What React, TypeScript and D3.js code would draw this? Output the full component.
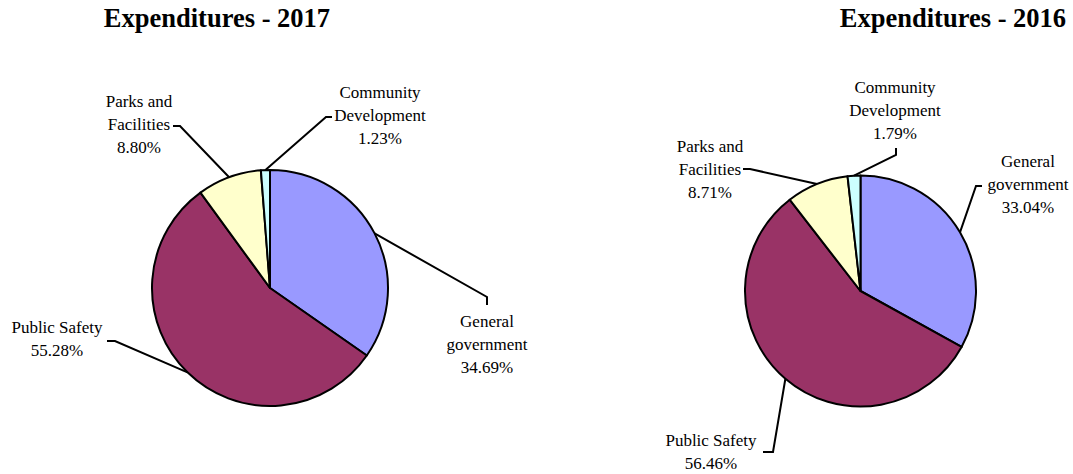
import React from "react";
import * as d3 from "d3";

const categories = ["General government", "Public Safety", "Parks and Facilities", "Community Development"];
const values2017 = [34.69, 55.28, 8.8, 1.23];
const values2016 = [33.04, 56.46, 8.71, 1.79];
const labelLines = [["General", "government"], ["Public Safety"], ["Parks and", "Facilities"], ["Community", "Development"]];
const colors = ["#9999FF", "#993366", "#FFFFCC", "#CCFFFF"];
const titles = ["Expenditures - 2017", "Expenditures - 2016"];

type LabelLayout = { x: number; y: number; elbow: [number, number]; end: [number, number] };
type ChartLayout = { cx: number; cy: number; r: number; titleX: number; labels: LabelLayout[] };

const layouts: ChartLayout[] = [
  {
    cx: 270, cy: 288, r: 118, titleX: 217,
    labels: [
      { x: 487, y: 327, elbow: [487, 297], end: [487, 305] },
      { x: 57, y: 333, elbow: [115, 341], end: [107, 341] },
      { x: 139, y: 107, elbow: [180, 126], end: [173, 126] },
      { x: 380, y: 98, elbow: [326, 117], end: [332, 117] },
    ],
  },
  {
    cx: 860.5, cy: 291, r: 115.5, titleX: 953,
    labels: [
      { x: 1028, y: 167, elbow: [976, 186], end: [982, 186] },
      { x: 711, y: 446, elbow: [773, 452], end: [763, 452] },
      { x: 710, y: 152, elbow: [750, 169], end: [743, 169] },
      { x: 895, y: 93, elbow: [896, 155], end: [896, 148] },
    ],
  },
];

const LINE_H = 23;
const FONT = "'Liberation Serif', 'Times New Roman', serif";

function PieChart({ values, layout, title }: { values: number[]; layout: ChartLayout; title: string }) {
  const pie = d3.pie<number>().sort(null).value((d) => d);
  const arcs = pie(values);
  const arc = d3.arc<d3.PieArcDatum<number>>().innerRadius(0).outerRadius(layout.r);
  const fmt = d3.format(".2f");
  return (
    <g>
      <text x={layout.titleX} y={27} textAnchor="middle" fontFamily={FONT} fontWeight="bold" fontSize={26.5} fill="#000">
        {title}
      </text>
      <g transform={`translate(${layout.cx},${layout.cy})`}>
        {arcs.map((a, i) => (
          <path key={categories[i]} d={arc(a) || ""} fill={colors[i]} stroke="#000" strokeWidth={2} strokeLinejoin="round" />
        ))}
      </g>
      {arcs.map((a, i) => {
        const mid = (a.startAngle + a.endAngle) / 2;
        const px = layout.cx + layout.r * Math.sin(mid);
        const py = layout.cy - layout.r * Math.cos(mid);
        const L = layout.labels[i];
        const line = d3.line()([[px, py], L.elbow, L.end]) || "";
        const lines = [...labelLines[i], fmt(values[i]) + "%"];
        return (
          <g key={categories[i]}>
            <path d={line} fill="none" stroke="#000" strokeWidth={2} />
            <text x={L.x} y={L.y} textAnchor="middle" fontFamily={FONT} fontSize={17} fill="#000">
              {lines.map((t, j) => (
                <tspan key={j} x={L.x} y={L.y + j * LINE_H}>
                  {t}
                </tspan>
              ))}
            </text>
          </g>
        );
      })}
    </g>
  );
}

export default function App() {
  return (
    <svg width={1073} height={474} style={{ position: "absolute", left: 0, top: 0, background: "#fff" }}>
      <rect width={1073} height={474} fill="#fff" />
      <PieChart values={values2017} layout={layouts[0]} title={titles[0]} />
      <PieChart values={values2016} layout={layouts[1]} title={titles[1]} />
    </svg>
  );
}
